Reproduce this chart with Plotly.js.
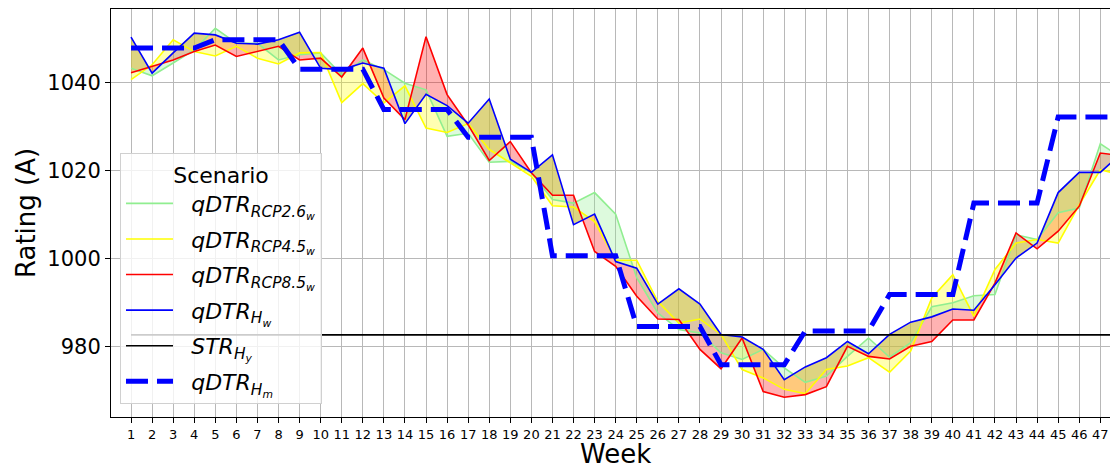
<!DOCTYPE html>
<html><head><meta charset="utf-8">
<script src="https://cdn.plot.ly/plotly-3.0.1.min.js"></script>
<style>html,body{margin:0;padding:0;background:#fff}#chart{width:1110px;height:464px}</style>
</head><body><div id="chart"></div>
<script>
const weeks = Array.from({length:48},(_,i)=>i+1);
const weekLabels = weeks.map(String);
const rcp26 = [1043.3,1041.6,1044.5,1047.5,1052.4,1049.0,1049.0,1045.2,1046.4,1046.8,1041.8,1045.2,1043.0,1039.9,1038.4,1027.8,1028.5,1021.9,1022.1,1019.5,1013.4,1012.6,1015.0,1010.1,995.6,987.6,983.8,983.0,978.5,977.0,979.3,975.1,971.8,973.2,977.7,981.9,977.5,980.8,989.0,989.9,991.5,991.8,1005.4,1004.3,1010.4,1011.5,1026.1,1023.0];
const rcp45 = [1040.7,1044.1,1049.8,1047.1,1046.1,1048.3,1045.6,1044.3,1046.8,1046.9,1035.5,1039.8,1035.4,1039.3,1029.7,1028.7,1030.7,1024.8,1021.8,1018.7,1012.0,1011.7,1008.4,999.6,999.6,990.2,985.3,986.2,982.7,974.7,972.8,970.2,969.2,974.7,975.5,977.4,974.1,978.9,991.0,996.3,986.8,997.5,1003.5,1004.3,1003.5,1012.2,1020.2,1019.0];
const rcp85 = [1042.3,1043.7,1045.2,1047.1,1048.6,1046.0,1047.1,1048.3,1045.2,1045.6,1041.3,1047.9,1036.5,1031.6,1050.5,1037.3,1030.4,1022.3,1026.6,1019.5,1014.4,1014.4,1001.6,998.2,991.4,986.2,986.1,979.3,974.9,981.9,969.7,968.4,969.0,970.8,980.0,977.7,977.1,980.0,981.1,986.0,986.0,994.4,1005.8,1002.2,1006.2,1011.9,1024.0,1023.4];
const histW = [1050.4,1042.2,1046.8,1051.3,1050.9,1049.0,1048.8,1049.8,1051.5,1043.3,1043.0,1044.5,1043.3,1030.7,1037.4,1034.8,1030.8,1036.3,1022.6,1019.6,1023.6,1007.7,1010.1,999.3,997.8,989.6,993.1,989.6,982.7,982.1,979.3,972.4,975.3,977.4,981.1,978.3,982.7,985.5,986.7,988.5,988.2,994.0,1000.1,1003.5,1015.0,1019.6,1019.6,1023.9];
const histM = [1047.9,1047.9,1047.9,1047.9,1049.8,1049.8,1049.8,1049.8,1043.1,1043.1,1043.1,1043.1,1033.9,1033.9,1033.9,1033.9,1027.6,1027.6,1027.6,1027.6,1000.6,1000.6,1000.6,1000.6,984.5,984.5,984.5,984.5,975.8,975.8,975.8,975.8,983.5,983.5,983.5,983.5,991.8,991.8,991.8,991.8,1012.6,1012.6,1012.6,1012.6,1032.2,1032.2,1032.2,1032.2];
const strValue = 982.6;
const strY = weeks.map(()=>strValue);

const traces = [];
function band(vals, fc){
  traces.push({x:weeks,y:histW,mode:'lines',line:{width:0},showlegend:false,hoverinfo:'skip'});
  traces.push({x:weeks,y:vals,mode:'lines',line:{width:0},fill:'tonexty',fillcolor:fc,showlegend:false,hoverinfo:'skip'});
}
band(rcp85,'rgba(255,0,0,0.3)');
band(rcp45,'rgba(255,255,0,0.3)');
band(rcp26,'rgba(144,238,144,0.3)');
const gap = '\u2002\u200A';
function line(y,name,color,width,dash,g){
  traces.push({x:weeks,y:y,mode:'lines',name:gap+name,legendgroup:g,line:{color:color,width:width,dash:dash||'solid'}});
}
line(rcp26,'<i>qDTR</i><sub><i>RCP2.6<sub>w</sub></i></sub>','#90ee90',1.6,null,'a');
line(rcp45,'<i>qDTR</i><sub><i>RCP4.5<sub>w</sub></i></sub>','#ffff00',1.6,null,'b');
line(rcp85,'<i>qDTR</i><sub><i>RCP8.5<sub>w</sub></i></sub>','#ff0000',1.6,null,'c');
line(histW,'<i>qDTR</i><sub><i>H<sub>w</sub></i></sub>','#0000ff',1.6,null,'d');
line(strY,'<i>STR</i><sub><i>H<sub>y</sub></i></sub>','#000000',1.6,null,'e');
line(histM,'<i>qDTR</i><sub><i>H<sub>m</sub></i></sub>','#0000ff',5,'22px,9px','f');

const layout = {
  width:1110,height:464,
  margin:{l:111,r:0,t:9,b:47,pad:0},
  paper_bgcolor:'#fff',plot_bgcolor:'#fff',
  font:{family:'DejaVu Sans',color:'#000'},
  showlegend:true,
  xaxis:{range:[0.05,47.46],tickvals:weeks,ticktext:weekLabels,tickfont:{size:13},
    showgrid:true,gridcolor:'#b8b8b8',gridwidth:1,zeroline:false,
    showline:true,linecolor:'#000',linewidth:1,mirror:true,ticks:'outside',ticklen:5,tickcolor:'#000',automargin:false},
  yaxis:{range:[963.9,1056.8],tickvals:[980,1000,1020,1040],tickfont:{size:21},
    showgrid:true,gridcolor:'#b8b8b8',gridwidth:1,zeroline:false,
    showline:true,linecolor:'#000',linewidth:1,ticks:'outside',ticklen:5,tickcolor:'#000',automargin:false},
  annotations:[
    {text:'Week',xref:'paper',yref:'paper',x:(615-111)/999,y:-(454-417)/408,xanchor:'center',yanchor:'middle',showarrow:false,font:{size:26}},
    {text:'Rating (A)',xref:'paper',yref:'paper',x:-(111-26)/999,y:0.5,xanchor:'center',yanchor:'middle',textangle:-90,showarrow:false,font:{size:26}}
  ],
  legend:{x:0.009,y:0.032,xanchor:'left',yanchor:'bottom',bgcolor:'rgba(255,255,255,0.8)',
    bordercolor:'#d0d0d0',borderwidth:1,font:{size:22},itemwidth:47,traceorder:'grouped',tracegroupgap:4,
    title:{text:'Scenario',side:'top center',font:{size:22}}}
};
Plotly.newPlot('chart',traces,layout,{displayModeBar:false,staticPlot:true});
</script></body></html>
